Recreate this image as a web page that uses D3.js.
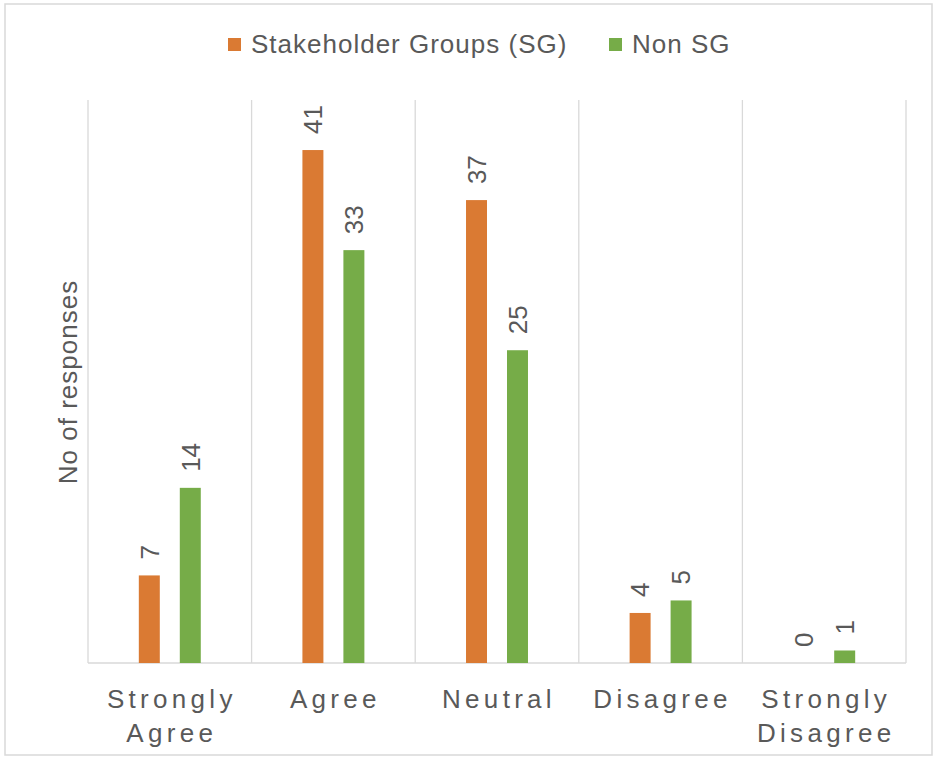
<!DOCTYPE html>
<html>
<head>
<meta charset="utf-8">
<script src="https://cdn.jsdelivr.net/npm/d3@7"></script>
<style>
  html, body { margin: 0; padding: 0; background: #fff; }
  text { font-family: "Liberation Sans", Arial, sans-serif; fill: #595959; }
</style>
</head>
<body>
<svg id="chart" width="934" height="764"></svg>
<script>
const categories = [["Strongly", "Agree"], ["Agree"], ["Neutral"], ["Disagree"], ["Strongly", "Disagree"]];
const categoryKeys = ["Strongly Agree", "Agree", "Neutral", "Disagree", "Strongly Disagree"];
const seriesNames = ["Stakeholder Groups (SG)", "Non SG"];
const sgValues = [7, 41, 37, 4, 0];
const nonSgValues = [14, 33, 25, 5, 1];
const colors = ["#DA7A33", "#76AC48"];
const yMax = 45;

const svg = d3.select("#chart");
const plotLeft = 88, plotRight = 906, plotTop = 100, plotBottom = 663;

// outer border
svg.append("rect").attr("x", 5).attr("y", 4).attr("width", 927).attr("height", 751)
  .attr("fill", "none").attr("stroke", "#d9d9d9").attr("stroke-width", 1.5);

const x0 = d3.scaleBand().domain(categoryKeys).range([plotLeft, plotRight]).padding(0);
const x1 = d3.scaleBand().domain(seriesNames).range([0, x0.bandwidth()])
  .paddingInner(0.488).paddingOuter(1.24);
const y = d3.scaleLinear().domain([0, yMax]).range([plotBottom, plotTop]);

// vertical gridlines at category boundaries
const bounds = categoryKeys.map(c => x0(c)).concat([plotRight]);
svg.append("g").selectAll("line").data(bounds).join("line")
  .attr("x1", d => d).attr("x2", d => d).attr("y1", plotTop).attr("y2", plotBottom)
  .attr("stroke", "#d9d9d9").attr("stroke-width", 1.3);

// baseline
svg.append("line").attr("x1", plotLeft).attr("x2", plotRight).attr("y1", plotBottom).attr("y2", plotBottom)
  .attr("stroke", "#d9d9d9").attr("stroke-width", 1.5);

const data = categoryKeys.map((c, i) => ({ cat: c, vals: [sgValues[i], nonSgValues[i]] }));

const groups = svg.append("g").selectAll("g").data(data).join("g")
  .attr("transform", d => `translate(${x0(d.cat)},0)`);

groups.selectAll("rect").data(d => d.vals.map((v, j) => ({ s: seriesNames[j], v, j })))
  .join("rect")
  .attr("x", d => x1(d.s)).attr("width", x1.bandwidth())
  .attr("y", d => y(d.v)).attr("height", d => plotBottom - y(d.v))
  .attr("fill", d => colors[d.j]);

groups.selectAll("text.lbl").data(d => d.vals.map((v, j) => ({ s: seriesNames[j], v, j })))
  .join("text").attr("class", "lbl")
  .attr("transform", d => `translate(${x1(d.s) + x1.bandwidth() / 2},${y(d.v) - 16}) rotate(-90)`)
  .attr("dy", "0.36em")
  .attr("text-anchor", "start")
  .style("font-size", "26px")
  .text(d => d.v);

// category labels
const catG = svg.append("g");
categoryKeys.forEach((c, i) => {
  const cx = x0(c) + x0.bandwidth() / 2 + 2;
  const t = catG.append("text")
    .attr("x", cx)
    .attr("y", 708)
    .attr("text-anchor", "middle")
    .style("font-size", "26px")
    .style("letter-spacing", "4.3px");
  categories[i].forEach((line, k) => {
    t.append("tspan").attr("x", cx)
      .attr("dy", k === 0 ? 0 : 34).text(line);
  });
});

// y-axis title
svg.append("text")
  .attr("transform", "translate(77,382) rotate(-90)")
  .attr("text-anchor", "middle")
  .style("font-size", "26px")
  .style("letter-spacing", "1px")
  .text("No of responses");

// legend
const legendX = [228, 609];
const lg = svg.append("g");
seriesNames.forEach((s, i) => {
  lg.append("rect").attr("x", legendX[i]).attr("y", 38).attr("width", 13).attr("height", 13)
    .attr("fill", colors[i]);
  lg.append("text").attr("x", legendX[i] + 23).attr("y", 53)
    .style("font-size", "26px").style("letter-spacing", "1px").text(s);
});
</script>
</body>
</html>
